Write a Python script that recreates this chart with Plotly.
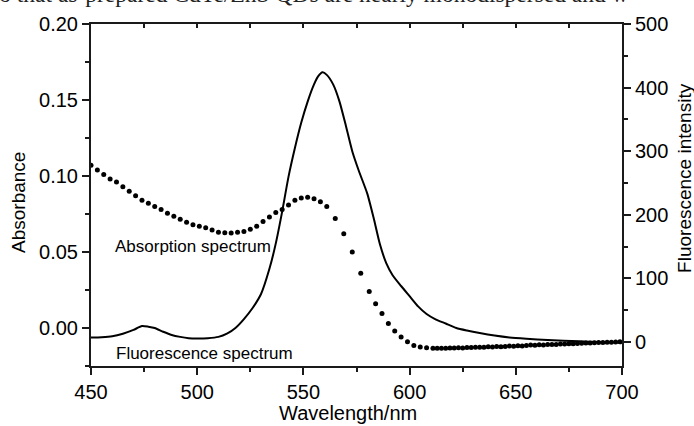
import plotly.graph_objects as go

# ---- data ----
abs_wavelength = [450, 453, 456, 459, 462, 465, 468, 471, 474, 477, 480, 483, 486, 489, 492, 495,
                  498, 501, 504, 507, 510, 513, 516, 519, 522, 525, 528, 531, 534, 537, 540, 543,
                  546, 549, 552, 555, 558, 561, 565, 569, 573, 577, 581, 584, 587, 590, 593, 596,
                  599, 602, 605, 608, 611, 613, 615, 617, 619, 621, 623, 625, 627, 629, 631, 633,
                  635, 637, 639, 641, 643, 645, 647, 649, 651, 653, 655, 657, 659, 661, 663, 665,
                  667, 669, 671, 673, 675, 677, 679, 681, 683, 685, 687, 689, 691, 693, 695, 697, 699]
absorbance = [0.107, 0.104, 0.101, 0.098, 0.096, 0.093, 0.090, 0.087, 0.084, 0.082, 0.080, 0.078,
              0.0755, 0.0735, 0.0715, 0.0695, 0.068, 0.067, 0.066, 0.0645, 0.063, 0.0627, 0.0625,
              0.063, 0.0635, 0.065, 0.067, 0.070, 0.073, 0.076, 0.078, 0.081, 0.084, 0.0855, 0.086,
              0.085, 0.083, 0.080, 0.072, 0.062, 0.050, 0.036, 0.024, 0.016, 0.0095, 0.003, -0.002,
              -0.006, -0.009, -0.0115, -0.0125, -0.013, -0.0133, -0.0134, -0.0133, -0.0134, -0.0131,
              -0.0132, -0.013, -0.0131, -0.0128, -0.0129, -0.0127, -0.0126, -0.0127, -0.0124,
              -0.0125, -0.0122, -0.0123, -0.0121, -0.0119, -0.012, -0.0117, -0.0118, -0.0115,
              -0.0112, -0.0114, -0.0111, -0.0112, -0.0109, -0.0108, -0.0109, -0.0106, -0.0105,
              -0.0104, -0.0103, -0.0102, -0.0101, -0.0099, -0.0098, -0.0097, -0.0096, -0.0095,
              -0.0094, -0.0093, -0.0092, -0.0091]

fl_wavelength = [450, 455, 460, 465, 470, 474, 477, 480, 484, 488, 492, 496, 500, 505, 510, 514,
                 518, 522, 526, 530, 534, 537, 540, 543, 546, 549, 552, 555, 557, 559, 561, 564,
                 567, 570, 573, 576, 580, 583, 586, 589, 592, 596, 600, 604, 608, 612, 617, 622,
                 627, 633, 640, 647, 655, 665, 680, 690, 700]
fl_intensity = [7, 7.5, 9, 13, 19, 25, 24, 22, 16, 11, 8, 6, 5.5, 6, 8, 13, 22, 36, 53, 75, 115,
                155, 205, 260, 305, 345, 378, 405, 418, 424, 420, 405, 378, 340, 300, 270, 234,
                196, 154, 124, 105, 88, 72, 56, 44, 36, 29, 22, 18, 14, 10, 7, 5, 3, 1, 0, -1]

x_ticks = [450, 500, 550, 600, 650, 700]
left_ticks = [0.00, 0.05, 0.10, 0.15, 0.20]
right_ticks = [0, 100, 200, 300, 400, 500]

FONT = "Liberation Sans, Arial, sans-serif"
AX = "#1a1a1a"

fig = go.Figure()
fig.add_trace(go.Scatter(x=abs_wavelength, y=absorbance, mode="markers",
                         marker=dict(color="black", size=5), yaxis="y", xaxis="x",
                         showlegend=False))
fig.add_trace(go.Scatter(x=fl_wavelength, y=fl_intensity, mode="lines",
                         line=dict(color="black", width=2, shape="spline", smoothing=0.6),
                         yaxis="y2", xaxis="x", showlegend=False))

fig.update_layout(
    width=694, height=426,
    margin=dict(l=91, r=72, t=24, b=60),
    paper_bgcolor="white", plot_bgcolor="white",
    font=dict(family=FONT, size=20, color="black"),
    xaxis=dict(range=[450, 700], tickvals=x_ticks, ticks="outside", ticklen=7, tickwidth=2,
               tickcolor=AX, showline=True, linecolor=AX, linewidth=2, showgrid=False,
               zeroline=False, tickfont=dict(size=20), automargin=False,
               minor=dict(dtick=25, tick0=450, ticks="outside", ticklen=4, tickwidth=2,
                          tickcolor=AX, showgrid=False)),
    xaxis2=dict(range=[450, 700], overlaying="x", side="top", dtick=25, tick0=450,
                ticks="inside", ticklen=4, tickwidth=2, tickcolor=AX, showticklabels=False,
                showline=True, linecolor=AX, linewidth=2, showgrid=False, zeroline=False,
                automargin=False),
    yaxis=dict(range=[-0.025, 0.20], tickvals=left_ticks, tickformat=".2f", ticks="outside",
               ticklen=7, tickwidth=2, tickcolor=AX, showline=True, linecolor=AX, linewidth=2,
               showgrid=False, zeroline=False, tickfont=dict(size=20), automargin=False,
               minor=dict(dtick=0.025, tick0=0, ticks="outside", ticklen=4, tickwidth=2,
                          tickcolor=AX, showgrid=False)),
    yaxis2=dict(range=[-37.8, 500], tickvals=right_ticks, overlaying="y", side="right",
                ticks="outside", ticklen=7, tickwidth=2, tickcolor=AX, showline=True,
                linecolor=AX, linewidth=2, showgrid=False, zeroline=False,
                tickfont=dict(size=20), automargin=False,
                minor=dict(dtick=50, tick0=0, ticks="outside", ticklen=4, tickwidth=2,
                           tickcolor=AX, showgrid=False)),
)

# invisible trace to activate the top axis
fig.add_trace(go.Scatter(x=[450], y=[None], xaxis="x2", yaxis="y", showlegend=False,
                         hoverinfo="skip"))

# axis titles (placed as in the source figure)
fig.add_annotation(x=0.484, y=-0.1374, xref="paper", yref="paper", text="Wavelength/nm",
                   showarrow=False, xanchor="center", yanchor="middle",
                   font=dict(size=20, family=FONT, color="black"))
fig.add_annotation(x=-0.1375, y=0.4795, xref="paper", yref="paper", text="Absorbance",
                   showarrow=False, xanchor="center", yanchor="middle", textangle=-90,
                   font=dict(size=19, family=FONT, color="black"))
fig.add_annotation(x=1.1186, y=0.55, xref="paper", yref="paper",
                   text="Fluorescence intensity",
                   showarrow=False, xanchor="center", yanchor="middle", textangle=-90,
                   font=dict(size=19, family=FONT, color="black"))

fig.add_annotation(x=460.4, y=0.0535, xref="x", yref="y", text="Absorption spectrum",
                   showarrow=False, xanchor="left", yanchor="middle",
                   font=dict(size=17, family=FONT, color="black"))
fig.add_annotation(x=460.8, y=-0.0171, xref="x", yref="y", text="Fluorescence spectrum",
                   showarrow=False, xanchor="left", yanchor="middle",
                   font=dict(size=17, family=FONT, color="black"))
# cropped line of the surrounding paper text (cut off at the top edge, as in the source)
fig.add_annotation(x=0, y=1, xref="paper", yref="paper", xshift=-103, yshift=30,
                   text="so that as-prepared CdTe/ZnS QDs are nearly monodispersed and w",
                   showarrow=False, xanchor="left", yanchor="middle",
                   font=dict(size=23.5, family="Liberation Serif, Times New Roman, serif",
                             color="#222"))

fig.write_html("out.html")
